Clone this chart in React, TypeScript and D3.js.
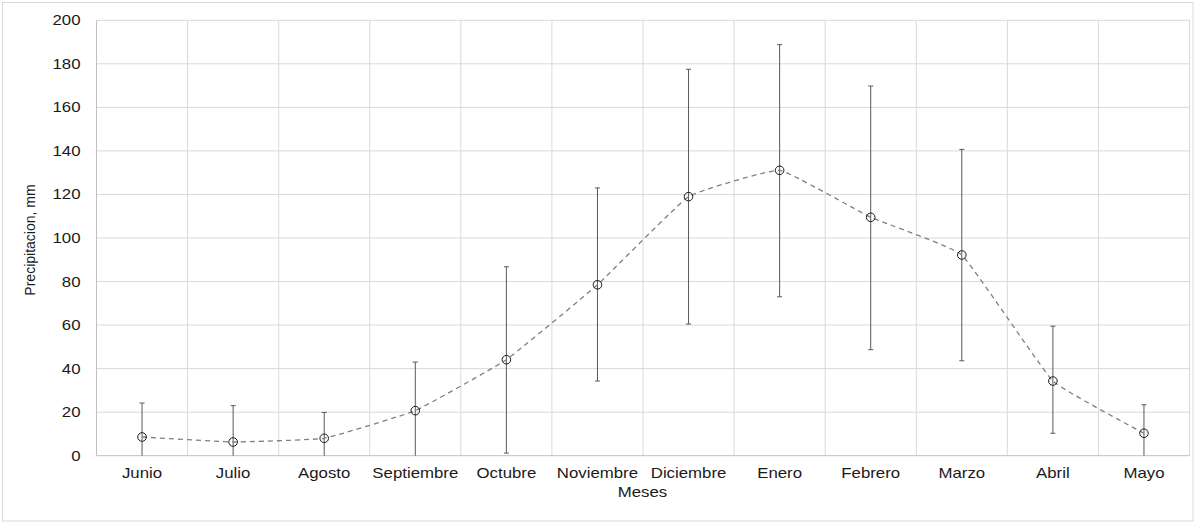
import * as d3 from "d3";
import { useEffect, useRef } from "react";

// monthly precipitation (mean with error bar limits)
const months = [
  "Junio", "Julio", "Agosto", "Septiembre", "Octubre", "Noviembre",
  "Diciembre", "Enero", "Febrero", "Marzo", "Abril", "Mayo",
];
const meanValues = [8.6, 6.3, 8.0, 20.7, 44.1, 78.5, 119.0, 131.1, 109.5, 92.2, 34.3, 10.3];
const upperValues = [24.2, 23.0, 19.9, 43.0, 86.8, 123.0, 177.5, 188.8, 169.8, 140.7, 59.5, 23.4];
const lowerValues = [0, 0, 0, 0, 1.2, 34.3, 60.5, 73.0, 48.7, 43.6, 10.3, 0];
const yTicks = [0, 20, 40, 60, 80, 100, 120, 140, 160, 180, 200];

const W = 1194;
const H = 523;
const FONT = "'Liberation Sans', Arial, sans-serif";
const STRETCH = 1.2; // the reference text is a little wide

export default function App() {
  const ref = useRef<SVGSVGElement>(null);

  useEffect(() => {
    if (!ref.current) return;
    const svg = d3.select(ref.current);
    svg.selectAll("*").remove();

    const left = 96.5;
    const right = 1189.5;
    const top = 20.3;
    const bottom = 455.7;

    // chart border
    svg.append("rect")
      .attr("x", 2.5).attr("y", 2.5)
      .attr("width", 1190.5).attr("height", 518.5)
      .attr("fill", "white")
      .attr("stroke", "#d9d9d9");

    const x = d3.scaleBand().domain(months).range([left, right]);
    const y = d3.scaleLinear().domain([0, 200]).range([bottom, top]);
    const cx = (m: string) => (x(m) as number) + x.bandwidth() / 2;

    // horizontal grid
    svg.append("g")
      .selectAll("line")
      .data(yTicks.filter((t) => t > 0))
      .join("line")
      .attr("x1", left).attr("x2", right)
      .attr("y1", (d) => y(d)).attr("y2", (d) => y(d))
      .attr("stroke", "#d9d9d9");

    // vertical grid at category boundaries
    const bounds = months.map((m) => x(m) as number).slice(1).concat([right]);
    svg.append("g")
      .selectAll("line")
      .data(bounds)
      .join("line")
      .attr("x1", (d) => d).attr("x2", (d) => d)
      .attr("y1", top).attr("y2", bottom)
      .attr("stroke", "#d9d9d9");

    // axes lines
    svg.append("line")
      .attr("x1", left).attr("x2", left)
      .attr("y1", top).attr("y2", bottom)
      .attr("stroke", "#bfbfbf");
    svg.append("line")
      .attr("x1", left).attr("x2", right)
      .attr("y1", bottom).attr("y2", bottom)
      .attr("stroke", "#bfbfbf");

    // y tick labels
    svg.append("g")
      .selectAll("text")
      .data(yTicks)
      .join("text")
      .attr("transform", (d) => `translate(80.5,${y(d) + 5}) scale(${STRETCH},1)`)
      .attr("text-anchor", "end")
      .attr("font-family", FONT)
      .attr("font-size", 14)
      .attr("fill", "#1a1a1a")
      .text((d) => d);

    // x tick labels
    svg.append("g")
      .selectAll("text")
      .data(months)
      .join("text")
      .attr("transform", (d) => `translate(${cx(d)},478.3) scale(${STRETCH},1)`)
      .attr("text-anchor", "middle")
      .attr("font-family", FONT)
      .attr("font-size", 14)
      .attr("fill", "#1a1a1a")
      .text((d) => d);

    // axis titles
    svg.append("text")
      .attr("transform", `translate(642.5,496.7) scale(${STRETCH},1)`)
      .attr("text-anchor", "middle")
      .attr("font-family", FONT)
      .attr("font-size", 14)
      .attr("fill", "#1a1a1a")
      .text("Meses");
    svg.append("text")
      .attr("transform", "translate(35,240) rotate(-90)")
      .attr("text-anchor", "middle")
      .attr("font-family", FONT)
      .attr("font-size", 14)
      .attr("fill", "#1a1a1a")
      .text("Precipitacion, mm");

    const pts = months.map((m, i) => ({
      m, mean: meanValues[i], lo: lowerValues[i], hi: upperValues[i],
    }));

    // error bars
    const eb = svg.append("g").attr("stroke", "#595959").attr("stroke-width", 1);
    eb.selectAll("line.v")
      .data(pts)
      .join("line")
      .attr("class", "v")
      .attr("x1", (d) => cx(d.m)).attr("x2", (d) => cx(d.m))
      .attr("y1", (d) => y(d.lo)).attr("y2", (d) => y(d.hi));
    eb.selectAll("line.t")
      .data(pts)
      .join("line")
      .attr("class", "t")
      .attr("x1", (d) => cx(d.m) - 2.5).attr("x2", (d) => cx(d.m) + 2.5)
      .attr("y1", (d) => y(d.hi)).attr("y2", (d) => y(d.hi));
    eb.selectAll("line.b")
      .data(pts.filter((d) => d.lo > 0))
      .join("line")
      .attr("class", "b")
      .attr("x1", (d) => cx(d.m) - 2.5).attr("x2", (d) => cx(d.m) + 2.5)
      .attr("y1", (d) => y(d.lo)).attr("y2", (d) => y(d.lo));

    // mildly smoothed dashed line
    const line = d3.line<(typeof pts)[number]>()
      .x((d) => cx(d.m))
      .y((d) => y(d.mean))
      .curve(d3.curveCardinal.tension(0.7));
    svg.append("path")
      .datum(pts)
      .attr("d", line)
      .attr("fill", "none")
      .attr("stroke", "#7f7f7f")
      .attr("stroke-width", 1.3)
      .attr("stroke-dasharray", "5,4");

    // markers
    svg.append("g")
      .selectAll("circle")
      .data(pts)
      .join("circle")
      .attr("cx", (d) => cx(d.m))
      .attr("cy", (d) => y(d.mean))
      .attr("r", 4.3)
      .attr("fill", "none")
      .attr("stroke", "#1a1a1a")
      .attr("stroke-width", 1);
  }, []);

  return (
    <div style={{ position: "absolute", left: 0, top: 0, background: "white" }}>
      <svg ref={ref} width={W} height={H} style={{ display: "block" }} />
    </div>
  );
}
